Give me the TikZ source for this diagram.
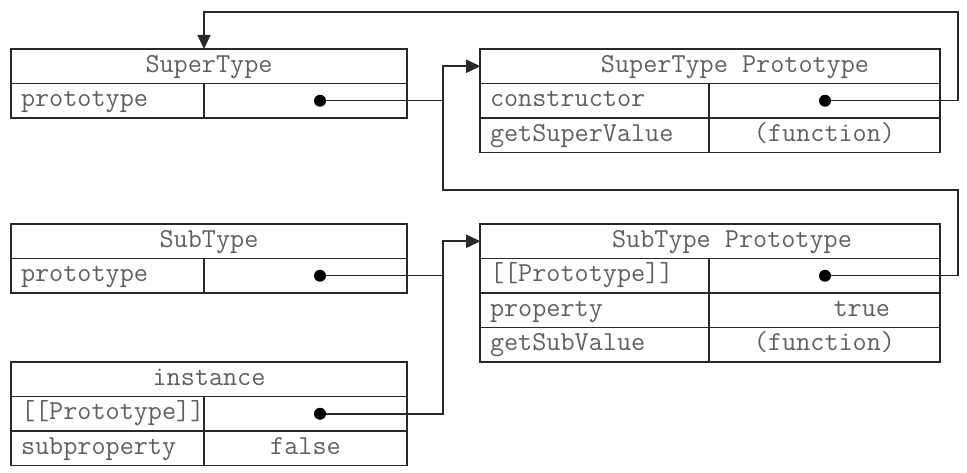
\documentclass[tikz,border=0pt]{standalone}
\usepackage{fontspec}
\usetikzlibrary{arrows.meta,positioning}
\definecolor{linec}{RGB}{40,40,40}
\definecolor{textc}{RGB}{95,95,95}
\newcommand\cellfont{\ttfamily\fontsize{27.4}{30}\selectfont}
\tikzset{
  cell/.style={draw=linec,line width=1.5pt,rectangle,minimum height=34.5pt,inner ysep=0pt,outer sep=0pt,
    anchor=north west,text=textc,font=\cellfont,text height=15pt,text depth=3pt},
  head/.style={cell,minimum width=#1,inner xsep=0pt},
  keyl/.style={cell,text width=173pt,inner xsep=10pt,align=left},
  keyr/.style={cell,text width=209pt,inner xsep=10pt,align=left},
  vall/.style={cell,minimum width=203pt,inner xsep=0pt},
  valr/.style={cell,minimum width=231pt,inner xsep=0pt},
  dot/.style={circle,fill=black,inner sep=0pt,minimum size=12pt},
  ptr/.style={draw=linec,line width=1.5pt,-{Triangle[length=14pt,width=13pt]}}
}
\begin{document}
\begin{tikzpicture}[x=1pt,y=-1pt]
\useasboundingbox (0,0) rectangle (967,473);
\node[head=396pt] (ST) at (11,49) {SuperType};
\node[keyl] (STk) at (ST.south west) {prototype};
\node[vall] (STv) at (STk.north east) {};
\node[head=396pt] (SB) at (11,224) {SubType};
\node[keyl] (SBk) at (SB.south west) {prototype};
\node[vall] (SBv) at (SBk.north east) {};
\node[head=396pt] (IN) at (11,362) {instance};
\node[keyl] (INk) at (IN.south west) {[[Prototype]]};
\node[vall] (INv) at (INk.north east) {};
\node[keyl] (INk2) at (INk.south west) {subproperty};
\node[vall] (INv2) at (INk2.north east) {false};
\node[head=460pt] (STP) at (480,49) {\hspace{50pt}SuperType Prototype};
\node[keyr] (STPk) at (STP.south west) {constructor};
\node[valr] (STPv) at (STPk.north east) {};
\node[keyr] (STPk2) at (STPk.south west) {getSuperValue};
\node[valr] (STPv2) at (STPk2.north east) {(function)};
\node[head=460pt] (SBP) at (480,224) {\hspace{44pt}SubType Prototype};
\node[keyr] (SBPk) at (SBP.south west) {[[Prototype]]};
\node[valr] (SBPv) at (SBPk.north east) {};
\node[keyr] (SBPk2) at (SBPk.south west) {property};
\node[valr] (SBPv2) at (SBPk2.north east) {\phantom{(funct}true\kern10pt};
\node[keyr] (SBPk3) at (SBPk2.south west) {getSubValue};
\node[valr] (SBPv3) at (SBPk3.north east) {(function)};
\node[dot] (STd) at (320,0 |- STv.center) {};
\node[dot] (SBd) at (320,0 |- SBv.center) {};
\node[dot] (INd) at (320,0 |- INv.center) {};
\node[dot] (STPd) at (825,0 |- STPv.center) {};
\node[dot] (SBPd) at (825,0 |- SBPv.center) {};
\coordinate (bus) at (443,0);
\coordinate (rim) at (958,0);
\coordinate (top) at (0,12);
\coordinate (mid) at (0,190);
\draw[ptr] (STd) -- (STd -| bus) |- (STP.west);
\draw[ptr] (STPd) -- (STPd -| rim) |- (top -| STk.east) -- (STk.east |- ST.north);
\draw[ptr] (SBPd) -- (SBPd -| rim) |- (mid -| bus) |- (STP.west);
\draw[ptr] (SBd) -- (SBd -| bus) |- (SBP.west);
\draw[ptr] (INd) -- (INd -| bus) |- (SBP.west);
\end{tikzpicture}
\end{document}
